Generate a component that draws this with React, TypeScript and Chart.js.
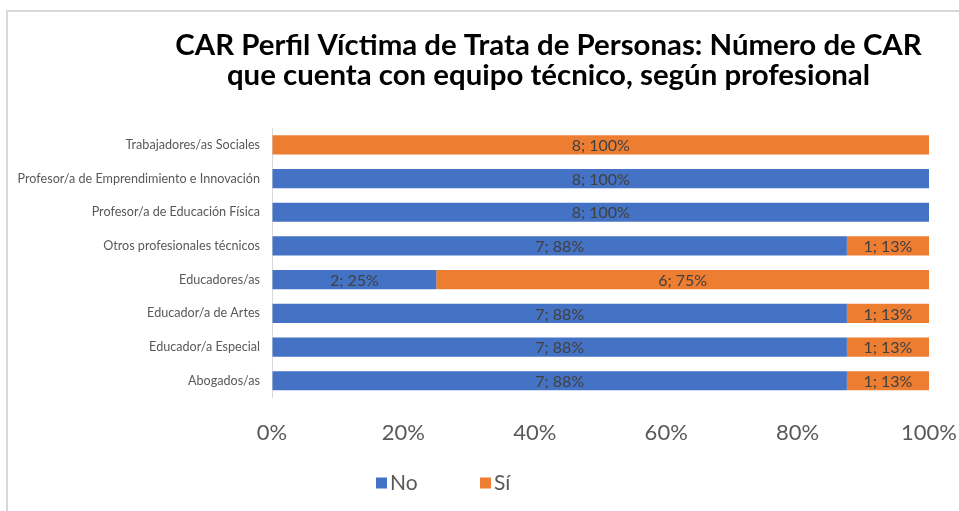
import React, { useEffect, useRef } from "react";
import { Chart, registerables } from "chart.js";

Chart.register(...registerables);

const categories = [
  "Trabajadores/as Sociales",
  "Profesor/a de Emprendimiento e Innovación",
  "Profesor/a de Educación Física",
  "Otros profesionales técnicos",
  "Educadores/as",
  "Educador/a de Artes",
  "Educador/a Especial",
  "Abogados/as",
];
const noCounts = [0, 8, 8, 7, 2, 7, 7, 7];
const siCounts = [8, 0, 0, 1, 6, 1, 1, 1];
const seriesNames = ["No", "Sí"];
const seriesColors = ["#4472C4", "#ED7D31"];
const titleLines = [
  "CAR Perfil Víctima de Trata de Personas: Número de CAR",
  "que cuenta con equipo técnico, según profesional",
];
const xTicks = [0, 20, 40, 60, 80, 100];

const FONT = "Lato";

const totals = categories.map((_, i) => noCounts[i] + siCounts[i]);
const toPct = (arr: number[]) => arr.map((v, i) => (totals[i] ? (v / totals[i]) * 100 : 0));

export default function App() {
  const ref = useRef<HTMLCanvasElement | null>(null);

  useEffect(() => {
    if (!ref.current) return;
    const countsBySeries = [noCounts, siCounts];

    const shiftPlugin = {
      id: "shiftTitle",
      afterLayout(chart: any) {
        const t = chart.titleBlock;
        if (t) {
          t.left += 84;
          t.right += 84;
        }
      },
    };

    const labelPlugin = {
      id: "barLabels",
      afterDatasetsDraw(chart: any) {
        const ctx = chart.ctx;
        ctx.save();
        ctx.font = `16px ${FONT}`;
        ctx.fillStyle = "#404040";
        ctx.textAlign = "center";
        ctx.textBaseline = "middle";
        chart.data.datasets.forEach((ds: any, di: number) => {
          const meta = chart.getDatasetMeta(di);
          meta.data.forEach((el: any, i: number) => {
            const c = countsBySeries[di][i];
            if (!c) return;
            const pct = Math.round(ds.data[i]);
            const x = (el.x + el.base) / 2;
            ctx.fillText(`${c}; ${pct}%`, x, el.y + 1);
          });
        });
        ctx.restore();
      },
    };

    const legendPlugin = {
      id: "customLegend",
      afterDraw(chart: any) {
        const ctx = chart.ctx;
        ctx.save();
        ctx.font = `21px ${FONT}`;
        ctx.textBaseline = "middle";
        ctx.textAlign = "left";
        const y = 483;
        const box = 11;
        const gap = 104;
        const startX = 376;
        chart.data.datasets.forEach((ds: any, di: number) => {
          const x = startX + di * gap;
          ctx.fillStyle = ds.backgroundColor;
          ctx.fillRect(x, y - box / 2, box, box);
          ctx.fillStyle = "#595959";
          ctx.fillText(ds.label, x + box + 3, y);
        });
        ctx.restore();
      },
    };

    const chart = new Chart(ref.current, {
      type: "bar",
      data: {
        labels: categories,
        datasets: [
          {
            label: seriesNames[0],
            data: toPct(noCounts),
            backgroundColor: seriesColors[0],
            borderWidth: 0,
            categoryPercentage: 1,
            barPercentage: 0.57,
          },
          {
            label: seriesNames[1],
            data: toPct(siCounts),
            backgroundColor: seriesColors[1],
            borderWidth: 0,
            categoryPercentage: 1,
            barPercentage: 0.57,
          },
        ],
      },
      options: {
        indexAxis: "y",
        animation: false,
        responsive: false,
        maintainAspectRatio: false,
        layout: { padding: { top: 0, bottom: 65, left: 0, right: 30 } },
        plugins: {
          legend: { display: false },
          tooltip: { enabled: false },
          title: {
            display: true,
            text: titleLines,
            color: "#000000",
            font: { family: FONT, size: 29.4, weight: "bold", lineHeight: 30.5 / 29.4 },
            padding: { top: 30, bottom: 37 },
          },
        },
        scales: {
          x: {
            stacked: true,
            min: 0,
            max: 100,
            afterBuildTicks(scale: any) {
              scale.ticks = xTicks.map((v) => ({ value: v }));
            },
            ticks: {
              callback: (v: any) => `${v}%`,
              color: "#595959",
              font: { family: FONT, size: 22 },
              padding: 0,
              maxRotation: 0,
            },
            grid: {
              display: true,
              drawOnChartArea: false,
              drawTicks: true,
              tickLength: 22,
              color: "rgba(0,0,0,0)",
            },
            border: { display: false },
          },
          y: {
            stacked: true,
            afterFit(scale: any) {
              scale.width = 272;
            },
            ticks: {
              color: "#595959",
              font: { family: FONT, size: 12.6 },
              padding: 12,
              autoSkip: false,
            },
            grid: { display: false, drawTicks: false },
            border: { display: true, color: "#d9d9d9", width: 1 },
          },
        },
      },
      plugins: [shiftPlugin, labelPlugin, legendPlugin],
    } as any);

    return () => chart.destroy();
  }, []);

  return (
    <div style={{ position: "fixed", left: 0, top: 0, width: 959, height: 511, background: "#fff" }}>
      <div
        style={{
          position: "absolute",
          left: 6,
          top: 10,
          right: -2,
          bottom: -2,
          borderLeft: "2px solid #d9d9d9",
          borderTop: "2px solid #d9d9d9",
        }}
      />
      <canvas ref={ref} width={959} height={511} style={{ position: "absolute", left: 0, top: 0 }} />
    </div>
  );
}
